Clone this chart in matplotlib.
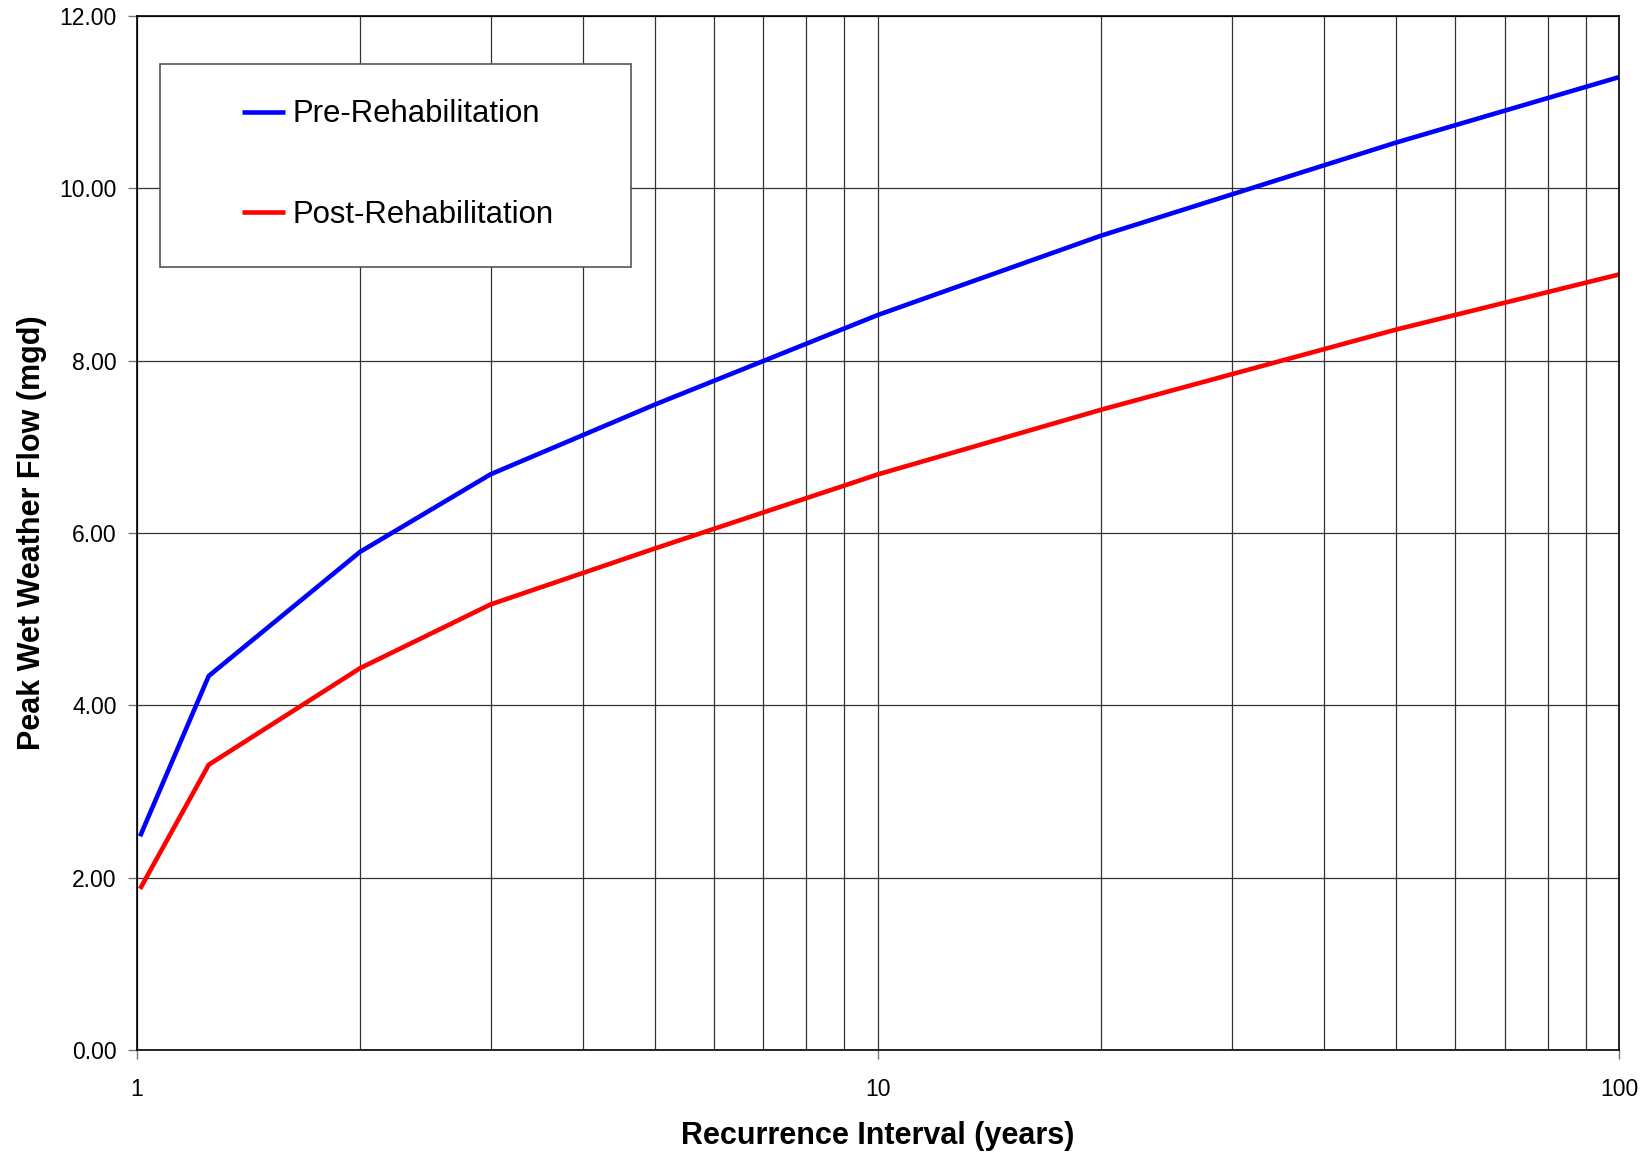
import matplotlib.pyplot as plt
from matplotlib.patches import Rectangle
from matplotlib.ticker import FixedLocator, FuncFormatter, LogLocator, NullFormatter

plt.rcParams['font.family'] = ['Liberation Sans', 'DejaVu Sans']

# recurrence interval (years) and peak flow (mgd)
years = [1.01, 1.25, 2, 3, 5, 10, 20, 50, 100]
pre_rehab = [2.48, 4.34, 5.78, 6.68, 7.49, 8.53, 9.45, 10.53, 11.29]
post_rehab = [1.87, 3.31, 4.43, 5.17, 5.82, 6.68, 7.43, 8.36, 9.00]

fig = plt.figure(figsize=(16.51, 11.54), dpi=100)
ax = fig.add_axes([0.0829, 0.0901, 0.898, 0.8962])

ax.plot(years, pre_rehab, color='#0000ff', lw=3.3, label='Pre-Rehabilitation', solid_capstyle='butt')
ax.plot(years, post_rehab, color='#ff0000', lw=3.3, label='Post-Rehabilitation', solid_capstyle='butt')

ax.set_xscale('log')
ax.set_xlim(1, 100)
ax.set_ylim(0, 12)

# ticks and grid
ax.xaxis.set_major_locator(FixedLocator([1, 10, 100]))
ax.xaxis.set_major_formatter(FuncFormatter(lambda v, p: f'{v:g}'))
ax.xaxis.set_minor_locator(LogLocator(base=10, subs=range(2, 10)))
ax.xaxis.set_minor_formatter(NullFormatter())
ax.set_yticks([0, 2, 4, 6, 8, 10, 12])
ax.yaxis.set_major_formatter(FuncFormatter(lambda v, p: f'{v:.2f}'))

ax.grid(True, which='both', axis='x', color='#333333', lw=0.9)
ax.grid(True, which='major', axis='y', color='#333333', lw=0.9)
ax.set_axisbelow(True)

ax.tick_params(axis='both', which='major', direction='out', length=6.5, width=1,
               color='#777777', labelsize=16.5, pad=8)
ax.tick_params(axis='x', which='major', pad=14)
ax.tick_params(axis='x', which='minor', length=0)

for s in ax.spines.values():
    s.set_color('black')
    s.set_linewidth(1.2)

ax.set_xlabel('Recurrence Interval (years)', fontsize=22, fontweight='bold', labelpad=14)
ax.set_ylabel('Peak Wet Weather Flow (mgd)', fontsize=22, fontweight='bold', labelpad=9)

# legend box drawn separately (Excel-style uneven padding)
ax.add_patch(Rectangle((0.0155, 0.7573), 0.3178, 0.1963, transform=ax.transAxes,
                       facecolor='white', edgecolor='#555555', lw=1.2, zorder=3))
leg = ax.legend(loc='center left', bbox_to_anchor=(0.0709, 0.856), fontsize=22.4,
                frameon=False, borderpad=0, labelspacing=2.27, handlelength=1.37,
                handletextpad=0.26, borderaxespad=0)
leg.set_zorder(4)

fig.savefig('out.png', dpi=100, facecolor='white')
